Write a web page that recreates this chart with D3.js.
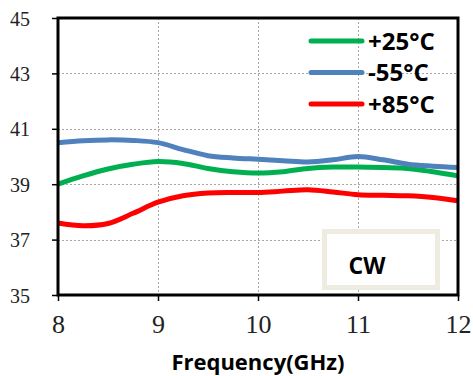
<!DOCTYPE html>
<html>
<head>
<meta charset="utf-8">
<script src="https://cdn.jsdelivr.net/npm/d3@7"></script>
<style>
  html, body { margin: 0; padding: 0; background: #fff; }
  svg { display: block; }
</style>
</head>
<body>
<svg id="chart" width="473" height="376"></svg>
<script>
// Frequency sweep (GHz) and measured values per temperature
const freq = [8, 8.25, 8.5, 8.75, 9, 9.25, 9.5, 9.75, 10, 10.25, 10.5, 10.75, 11, 11.25, 11.5, 11.75, 12];
const tempP25 = [39.0, 39.3, 39.55, 39.72, 39.82, 39.75, 39.57, 39.45, 39.4, 39.45, 39.57, 39.62, 39.62, 39.6, 39.57, 39.45, 39.3];
const tempM55 = [40.5, 40.57, 40.6, 40.58, 40.5, 40.25, 40.03, 39.95, 39.9, 39.85, 39.8, 39.88, 40.0, 39.88, 39.72, 39.65, 39.6];
const tempP85 = [37.6, 37.5, 37.58, 37.95, 38.35, 38.58, 38.68, 38.7, 38.7, 38.75, 38.8, 38.72, 38.62, 38.6, 38.58, 38.52, 38.4];

const seriesNames = ["+25°C", "-55°C", "+85°C"];
const seriesColors = ["#00b050", "#4f81bd", "#ff0000"];
const seriesValues = [tempP25, tempM55, tempP85];

const xTicks = [8, 9, 10, 11, 12];
const yTicks = [35, 37, 39, 41, 43, 45];
const xTitle = "Frequency(GHz)";
const boxLabel = "CW";

const svg = d3.select("#chart");
const plotL = 58, plotR = 458, plotT = 18, plotB = 295;
const sansBold = "'Open Sans', Lato, sans-serif";

const x = d3.scaleLinear().domain([8, 12]).range([plotL, plotR]);
const y = d3.scaleLinear().domain([35, 45]).range([plotB, plotT]);

// grid lines
const grid = svg.append("g").attr("stroke", "#a6a6a6").attr("stroke-width", 1)
  .attr("stroke-dasharray", "2,2").attr("fill", "none");
yTicks.filter(v => v !== 35 && v !== 45).forEach(v => {
  grid.append("line").attr("x1", plotL).attr("x2", plotR)
    .attr("y1", Math.round(y(v)) + 0.5).attr("y2", Math.round(y(v)) + 0.5);
});
xTicks.filter(v => v !== 8 && v !== 12).forEach(v => {
  grid.append("line").attr("y1", plotT).attr("y2", plotB)
    .attr("x1", Math.round(x(v)) + 0.5).attr("x2", Math.round(x(v)) + 0.5);
});

// CW annotation box
svg.append("rect")
  .attr("x", 324.5).attr("y", 231.5).attr("width", 113).attr("height", 56)
  .attr("fill", "#fff").attr("stroke", "#eeece1").attr("stroke-width", 5);
svg.append("text")
  .attr("x", 367).attr("y", 274).attr("text-anchor", "middle")
  .attr("font-family", sansBold).attr("font-weight", "bold")
  .attr("font-size", 23).attr("fill", "#000").text(boxLabel);

// series lines
const line = d3.line()
  .x((d, i) => x(freq[i]))
  .y(d => y(d))
  .curve(d3.curveCatmullRom.alpha(0.5));

seriesValues.forEach((vals, k) => {
  svg.append("path")
    .attr("d", line(vals))
    .attr("fill", "none")
    .attr("stroke", seriesColors[k])
    .attr("stroke-width", 5)
    .attr("stroke-linejoin", "round");
});

// axes
const yAxis = d3.axisLeft(y).tickValues(yTicks).tickSize(6).tickFormat(d3.format("d"));
const gy = svg.append("g").attr("transform", `translate(${plotL},0)`).call(yAxis);
gy.select(".domain").remove();
gy.selectAll(".tick line").attr("stroke", "#000").attr("stroke-width", 1.5);
gy.selectAll(".tick text")
  .attr("x", -28).attr("dy", "0.35em")
  .attr("font-family", "'Liberation Serif', serif").attr("font-size", 20).attr("fill", "#222");

const xAxis = d3.axisBottom(x).tickValues(xTicks).tickSize(6).tickFormat(d3.format("d"));
const gx = svg.append("g").attr("transform", `translate(0,${plotB})`).call(xAxis);
gx.select(".domain").remove();
gx.selectAll(".tick line").attr("stroke", "#000").attr("stroke-width", 1.5);
gx.selectAll(".tick text")
  .attr("y", 38).attr("dy", 0)
  .attr("font-family", "'Liberation Serif', serif").attr("font-size", 26).attr("fill", "#222");

// plot frame
svg.append("rect")
  .attr("x", plotL).attr("y", plotT).attr("width", plotR - plotL).attr("height", plotB - plotT)
  .attr("fill", "none").attr("stroke", "#000").attr("stroke-width", 3);

// legend
const legend = svg.append("g");
seriesNames.forEach((name, k) => {
  const ly = 41 + k * 31.5;
  legend.append("line")
    .attr("x1", 311).attr("x2", 362).attr("y1", ly).attr("y2", ly)
    .attr("stroke", seriesColors[k]).attr("stroke-width", 5).attr("stroke-linecap", "round");
  legend.append("text")
    .attr("x", 368).attr("y", ly + 8.5)
    .attr("font-family", sansBold).attr("font-weight", "bold")
    .attr("font-size", 24).attr("fill", "#000").text(name);
});

// axis title
svg.append("text")
  .attr("x", 258).attr("y", 370).attr("text-anchor", "middle")
  .attr("font-family", sansBold).attr("font-weight", "bold")
  .attr("font-size", 22).attr("fill", "#000").text(xTitle);
</script>
</body>
</html>
